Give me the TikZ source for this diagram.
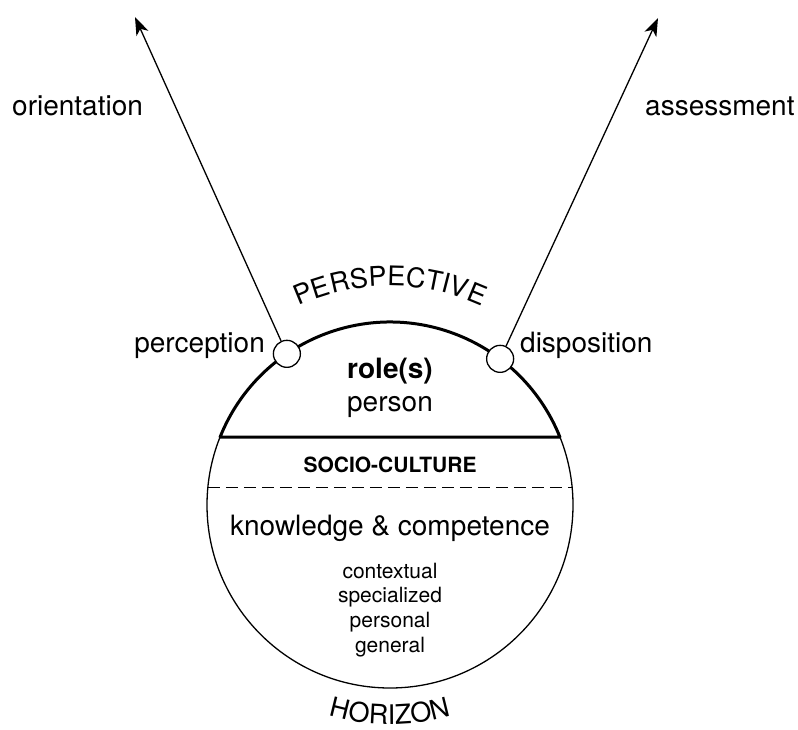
\documentclass[tikz,border=0pt]{standalone}
\usepackage{fontspec}
\setmainfont{TeX Gyre Heros}
\usetikzlibrary{arrows.meta,calc,decorations.text}

\begin{document}
\begin{tikzpicture}[x=1pt, y=1pt,
  lbl/.style={inner sep=0pt, font=\fontsize{28}{32}\selectfont},
  small/.style={inner sep=0pt, font=\fontsize{21}{25}\selectfont},
  port/.style={circle, draw, fill=white, line width=1.3pt, minimum size=27pt, inner sep=0pt},
  ray/.style={-{Stealth[length=18pt,width=13pt,inset=5pt]}, line width=1.3pt},
  arctext/.style={decorate, decoration={text along path, text align=center,
    text={|\fontsize{27}{27}\selectfont|#1}}}]
  \useasboundingbox (0,0) rectangle (798,-729);
  \coordinate (c) at (390,-505);
  \def\R{183}

  % sphere, upper cap and the layer boundary
  \draw[line width=1.3pt] (c) circle[radius=\R];
  \draw[line width=3pt, line join=round]
    ($(c)+(158.2:\R)$) arc[start angle=158.2, end angle=21.8, radius=\R] -- cycle;
  \draw[line width=1.3pt, dash pattern=on 12pt off 6pt]
    ($(c)+(174.4:\R)$) -- ($(c)+(5.6:\R)$);

  % ports and rays
  \node[port] (perc) at ($(c)+(124.3:\R)$) {};
  \node[port] (disp) at ($(c)+(53:\R)$) {};
  \coordinate (orient) at (135,-17);
  \coordinate (assess) at (658,-18);
  \draw[ray] (perc) -- (orient);
  \draw[ray] (disp) -- (assess);

  \node[lbl, anchor=base west] (orientlbl) at (12,-115)  {orientation};
  \node[lbl, anchor=base west] (assesslbl) at (645,-115) {assessment};
  \node[lbl, anchor=base east] (perclbl) at (265,-352)   {perception};
  \node[lbl, anchor=base west] (displbl) at (520,-352)   {disposition};

  % inside the sphere
  \node[lbl, anchor=base, font=\fontsize{28}{32}\selectfont\bfseries] (role) at (390,-378) {role(s)};
  \node[lbl, anchor=base] (person) at (390,-411) {person};
  \node[small, anchor=base, font=\fontsize{21}{25}\selectfont\bfseries] (socio) at (390,-472) {SOCIO-CULTURE};
  \node[lbl, anchor=base] (know) at (390,-535) {knowledge \& competence};
  \node[small, anchor=base] (ctx)  at (390,-578) {contextual};
  \node[small, anchor=base] (spec) at (390,-602) {specialized};
  \node[small, anchor=base] (pers) at (390,-627) {personal};
  \node[small, anchor=base] (gen)  at (390,-652) {general};

  % curved captions
  \path[arctext=PERSPECTIVE] ($(c)+(150:219)$) arc[start angle=150, end angle=30, radius=219];
  \path[arctext=HORIZON] ($(c)+(210:219)$) arc[start angle=210, end angle=330, radius=219];
\end{tikzpicture}
\end{document}
